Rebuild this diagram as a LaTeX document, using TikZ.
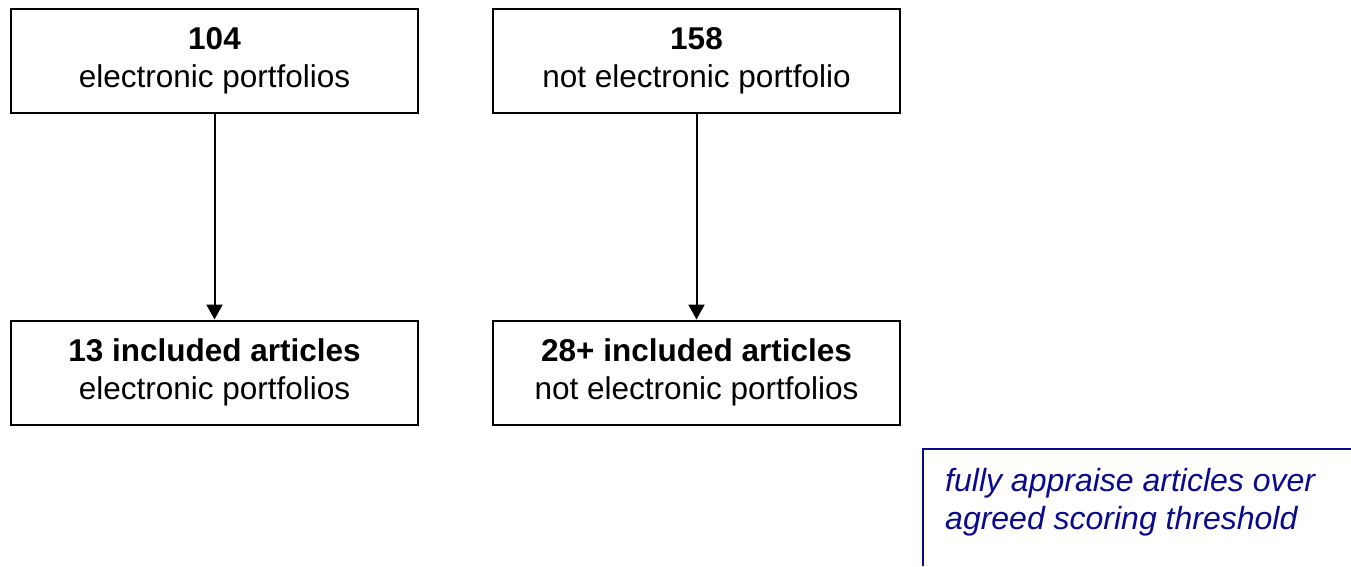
\documentclass[tikz,border=0pt]{standalone}
\usepackage{fontspec}
\setmainfont{Liberation Sans}
\usetikzlibrary{arrows.meta}
\definecolor{noteblue}{RGB}{10,10,140}
\begin{document}
\begin{tikzpicture}[x=1pt,y=-1pt,
  stepbox/.style={draw=black, line width=2pt, minimum width=407pt, minimum height=104pt,
    inner sep=0pt, align=center, font=\fontsize{31.5}{38}\selectfont},
  conn/.style={line width=2pt, -{Triangle[width=16pt,length=15pt]}}]
\useasboundingbox (0,0) rectangle (1351,566);
\node[stepbox] (a) at (214.5,61) {\textbf{104}\\electronic portfolios};
\node[stepbox] (b) at (696.5,61) {\textbf{158}\\not electronic portfolio};
\node[stepbox] (c) at (214.5,372.5) {\textbf{13 included articles}\\electronic portfolios};
\node[stepbox] (d) at (696.5,372.5) {\textbf{28+ included articles}\\not electronic portfolios};
\draw[conn] (a) -- (c);
\draw[conn] (b) -- (d);
\coordinate (nbl) at (923,566);
\coordinate (ntl) at (923,449);
\coordinate (ntr) at (1351,449);
\draw[noteblue, line width=2pt] (nbl) -- (ntl) -- (ntr);
\node[anchor=north west, inner sep=0pt, align=left, text=noteblue,
  font=\fontsize{32}{38}\selectfont\itshape] (note) at (945,468)
  {fully appraise articles over\\agreed scoring threshold};
\end{tikzpicture}
\end{document}
